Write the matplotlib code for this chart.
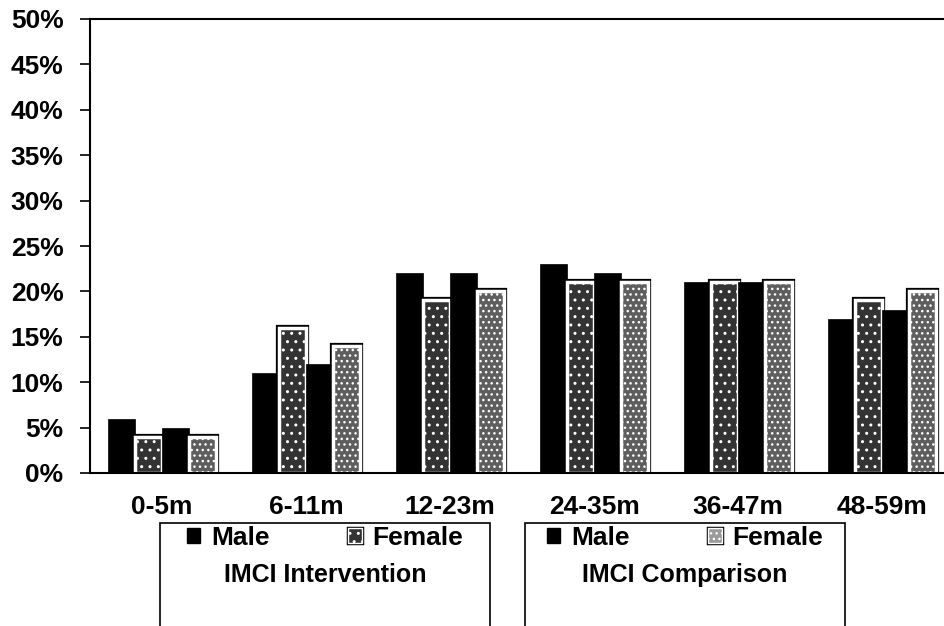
import matplotlib
matplotlib.use("Agg")
import matplotlib.pyplot as plt
import matplotlib.patheffects as pe
from matplotlib.patches import Rectangle, Patch
from matplotlib.ticker import PercentFormatter
import numpy as np

# age groups and the four series (percent)
age_groups = ["0-5m", "6-11m", "12-23m", "24-35m", "36-47m", "48-59m"]
interv_male = [6, 11, 22, 23, 21, 17]
interv_female = [4, 16, 19, 21, 21, 19]
comp_male = [5, 12, 22, 22, 21, 18]
comp_female = [4, 14, 20, 21, 21, 20]
y_ticks = list(range(0, 55, 5))

plt.rcParams['font.family'] = ['Liberation Sans', 'DejaVu Sans']
plt.rcParams['font.weight'] = 'bold'
plt.rcParams['hatch.linewidth'] = 1.0

W, H = 944, 626
fig = plt.figure(figsize=(W / 100, H / 100), dpi=100)
# axes run a little past the right edge of the picture, like the scan
ax = fig.add_axes([90 / W, 1 - 473 / H, 864 / W, (473 - 19) / H])

x = np.arange(len(age_groups))
w = 0.1875

female_fx = [pe.Stroke(linewidth=4.5, foreground='black'), pe.Normal()]

ax.bar(x - 1.5 * w, interv_male, w, color='black', edgecolor='black', lw=0.5)
ax.bar(x - 0.5 * w, interv_female, w, color='#333333', edgecolor='white', lw=2.5,
       hatch='..', path_effects=female_fx)
ax.bar(x + 0.5 * w, comp_male, w, color='black', edgecolor='black', lw=0.5)
ax.bar(x + 1.5 * w, comp_female, w, color='#5e5e5e', edgecolor='white', lw=2.5,
       hatch='...', path_effects=female_fx)

ax.set_xlim(-0.5, 5.5)
ax.set_ylim(0, 50)
ax.set_yticks(y_ticks)
ax.yaxis.set_major_formatter(PercentFormatter(decimals=0))
ax.set_xticks(x)
ax.set_xticklabels(age_groups)
ax.tick_params(axis='x', length=0, pad=16, labelsize=19)
ax.tick_params(axis='y', direction='out', length=7, width=1.2, pad=12, labelsize=19)
for s in ['left', 'bottom', 'top']:
    ax.spines[s].set_linewidth(1.5)
ax.spines['right'].set_visible(False)

# two legend boxes below the chart
boxes = [(160, 490, "IMCI Intervention", '#333333', '..'),
         (525, 845, "IMCI Comparison", '#9a9a9a', '...')]
for left, right, label, fcol, hatch in boxes:
    fig.patches.append(Rectangle((left / W, -0.05), (right - left) / W, 1 - 523 / H + 0.05,
                                 transform=fig.transFigure, fill=False,
                                 edgecolor='black', lw=1.2))
    handles = [Patch(facecolor='black', edgecolor='black', label='Male'),
               Patch(facecolor=fcol, edgecolor='white', hatch=hatch, label='Female',
                     path_effects=[pe.Stroke(linewidth=2.5, foreground='black'), pe.Normal()])]
    fig.legend(handles=handles, loc='center', ncol=2, frameon=False,
               bbox_to_anchor=((left + right) / 2 / W, 1 - 538 / H),
               fontsize=19, handlelength=0.5, handleheight=0.5,
               handletextpad=0.4, columnspacing=3.0)
    fig.text((left + right) / 2 / W, 1 - 575 / H, label, ha='center', va='center',
             fontsize=18)

fig.savefig("out.png", dpi=100)
